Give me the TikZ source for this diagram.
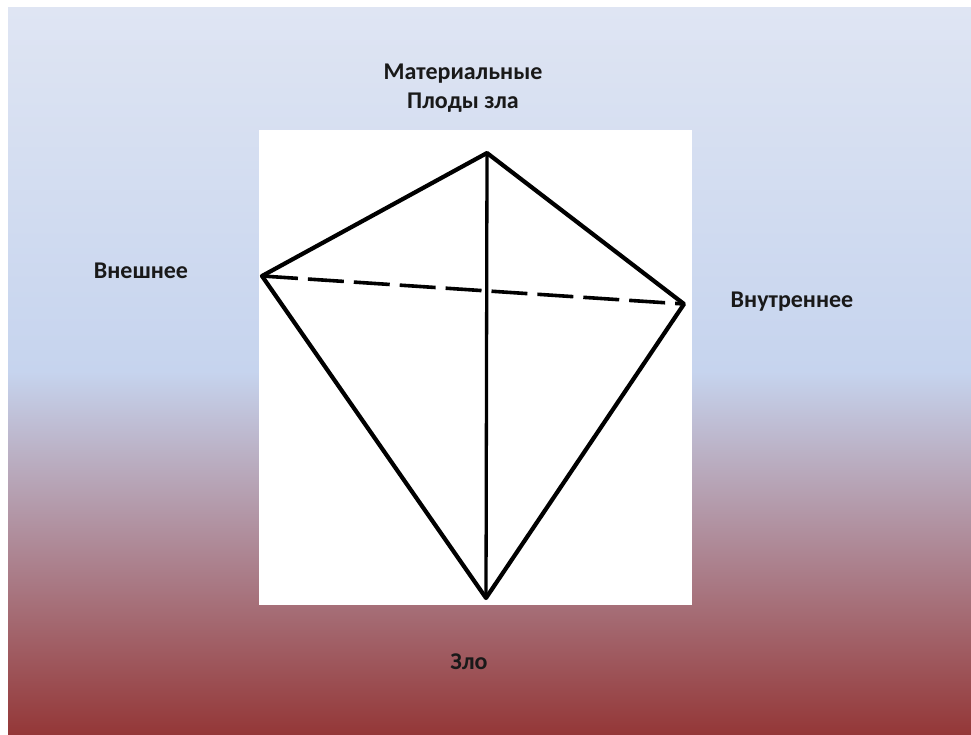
\documentclass[tikz,border=0pt]{standalone}
\usepackage{fontspec}
\setmainfont{Carlito}
\usetikzlibrary{positioning}
\definecolor{bgtop}{HTML}{DFE5F3}
\definecolor{bgmid}{HTML}{C6D4EE}
\definecolor{bgbot}{HTML}{943737}
\pgfdeclareverticalshading{slidebg}{100bp}{color(0bp)=(bgbot); color(25bp)=(bgbot); color(50bp)=(bgmid); color(75bp)=(bgtop); color(100bp)=(bgtop)}

\begin{document}
\begin{tikzpicture}[x=1pt,y=-1pt,
    lbl/.style={font=\fontsize{24}{29}\selectfont\bfseries, align=center, text=black!90, inner sep=0pt},
    edge/.style={line width=4.2pt, line join=round, line cap=round}]
    \useasboundingbox (0,0) rectangle (971,735);
    \shade[shading=slidebg] (8,8) rectangle (971,735);
    \fill[white] (259,130) rectangle (692,605);
    % kite corners
    \coordinate (top) at (487,153);
    \coordinate (outer) at (262,276);
    \coordinate (inner) at (684,304);
    \coordinate (evil) at (486,598);
    \draw[edge] (top) -- (outer) -- (evil) -- (inner) -- cycle;
    \draw[line width=3.3pt] (top) -- (evil);
    \draw[line width=3.6pt, dash pattern=on 36pt off 10pt] (outer) -- (inner);
    % labels
    \node[lbl] (fruits) at (463,88) {Материальные\\Плоды зла};
    \node[lbl] (outerlbl) at (141,271) {Внешнее};
    \node[lbl] (innerlbl) at (792,302) {Внутреннее};
    \node[lbl] (evillbl) at (469,662) {Зло};
\end{tikzpicture}
\end{document}
